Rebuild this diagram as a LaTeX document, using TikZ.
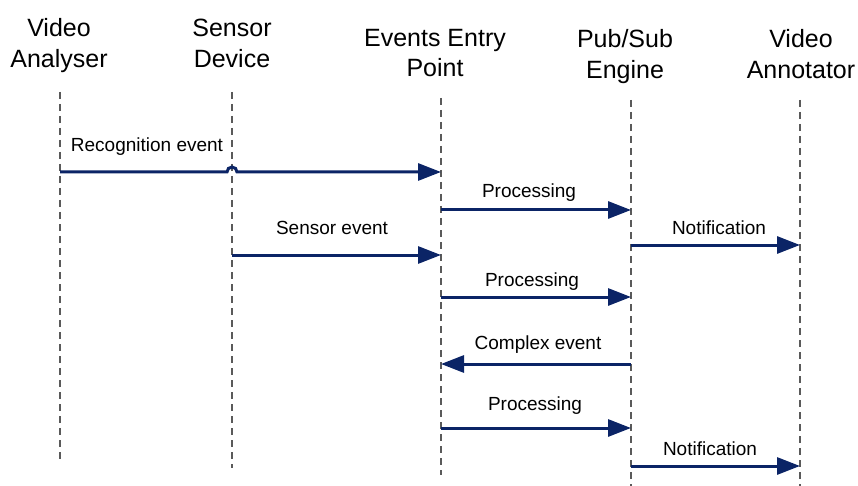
\documentclass[tikz,border=0pt]{standalone}
\usepackage{fontspec}
\setmainfont{Liberation Sans}
\usetikzlibrary{arrows.meta}
\definecolor{msgblue}{HTML}{0B2466}
\definecolor{lifegray}{HTML}{5A5A5A}
\begin{document}
\begin{tikzpicture}[x=1pt,y=-1pt,
  head/.style={font=\fontsize{25}{31}\selectfont, anchor=base, inner sep=0pt},
  lbl/.style={font=\fontsize{19}{23}\selectfont, anchor=base, inner sep=0pt},
  lifeline/.style={draw=lifegray, line width=1.3pt, dash pattern=on 7pt off 5pt},
  msg/.style={draw=msgblue, line width=3pt, -{Triangle[length=23pt,width=17pt]}}]
\useasboundingbox (0,0) rectangle (858,486);

% participant headings
\node[head] (vaA) at (59,37) {Video};
\node[head] (vaB) at (59,68) {Analyser};
\node[head] (sdA) at (232,37) {Sensor};
\node[head] (sdB) at (232,68) {Device};
\node[head] (eeA) at (435,47) {Events Entry};
\node[head] (eeB) at (435,77) {Point};
\node[head] (psA) at (625,48) {Pub/Sub};
\node[head] (psB) at (625,79) {Engine};
\node[head] (vnA) at (801,48) {Video};
\node[head] (vnB) at (801,79) {Annotator};

% lifelines
\coordinate (va) at (60,92);   \coordinate (vaEnd) at (60,462);
\coordinate (sd) at (232,92);  \coordinate (sdEnd) at (232,468);
\coordinate (ee) at (441,98);  \coordinate (eeEnd) at (441,475);
\coordinate (ps) at (631,100); \coordinate (psEnd) at (631,486);
\coordinate (vn) at (800,100); \coordinate (vnEnd) at (800,486);
\draw[lifeline] (va) -- (vaEnd);
\draw[lifeline] (sd) -- (sdEnd);
\draw[lifeline] (ee) -- (eeEnd);
\draw[lifeline] (ps) -- (psEnd);
\draw[lifeline] (vn) -- (vnEnd);

% messages
\coordinate (hop) at (232,172);
\draw[msg] (va |- hop) -- ([xshift=-5pt]hop) arc[start angle=180,end angle=0,radius=5pt] -- (ee |- hop);
\node[lbl] (m1) at (147,152) {Recognition event};

\draw[msg] (ee |- 0,210) -- (ps |- 0,210);
\node[lbl] (m2) at (529,197) {Processing};

\draw[msg] (ps |- 0,245) -- (vn |- 0,245);
\node[lbl] (m3) at (719,234) {Notification};

\draw[msg] (sd |- 0,255) -- (ee |- 0,255);
\node[lbl] (m4) at (332,234) {Sensor event};

\draw[msg] (ee |- 0,297) -- (ps |- 0,297);
\node[lbl] (m5) at (532,286) {Processing};

\draw[msg] (ps |- 0,364) -- (ee |- 0,364);
\node[lbl] (m6) at (538,349) {Complex event};

\draw[msg] (ee |- 0,428) -- (ps |- 0,428);
\node[lbl] (m7) at (535,410) {Processing};

\draw[msg] (ps |- 0,466) -- (vn |- 0,466);
\node[lbl] (m8) at (710,455) {Notification};
\end{tikzpicture}
\end{document}
